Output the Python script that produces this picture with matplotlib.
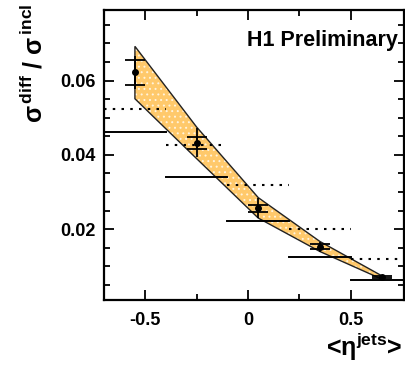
import matplotlib
matplotlib.use('Agg')
import matplotlib.pyplot as plt
from matplotlib.patches import Polygon

plt.rcParams['font.family'] = ['Liberation Sans', 'DejaVu Sans']
plt.rcParams['font.weight'] = 'bold'
plt.rcParams['mathtext.fontset'] = 'custom'
plt.rcParams['mathtext.rm'] = 'Liberation Sans:bold'
plt.rcParams['mathtext.bf'] = 'Liberation Sans:bold'
plt.rcParams['mathtext.it'] = 'Liberation Sans:bold'
plt.rcParams['hatch.linewidth'] = 0.7

# data points (eta bin centres) with stat / total errors
eta = [-0.55, -0.25, 0.05, 0.35, 0.65]
ratio = [0.0622, 0.0433, 0.0256, 0.0153, 0.0071]
stat_err = [0.0034, 0.0016, 0.0009, 0.0006, 0.0003]
tot_err = [0.0045, 0.0040, 0.0027, 0.0013, 0.0005]

# band (upper / lower edge at each point)
band_hi = [0.0692, 0.0475, 0.0285, 0.0167, 0.0075]
band_lo = [0.0551, 0.0390, 0.0230, 0.0140, 0.0066]

# predictions as histograms over bins
bin_edges = [-0.7, -0.4, -0.1, 0.2, 0.5, 0.8]
pred_solid = [0.0462, 0.0340, 0.0223, 0.0124, 0.0063]
pred_dotted = [0.0523, 0.0427, 0.0318, 0.0200, 0.0119]

fig = plt.figure(figsize=(4.05, 3.67), dpi=100)
ax = fig.add_axes([0.257, 0.183, 0.741, 0.790])

# shaded band
verts = list(zip(eta, band_hi)) + list(zip(eta[::-1], band_lo[::-1]))
ax.add_patch(Polygon(verts, closed=True, facecolor='#ffc96b', edgecolor='#fff3dc',
                     hatch='...', linewidth=0, zorder=1))
ax.add_patch(Polygon(verts, closed=True, fill=False, edgecolor='#222222',
                     linewidth=1.0, zorder=2))

for i in range(len(pred_solid)):
    ax.plot([bin_edges[i], bin_edges[i + 1]], [pred_solid[i], pred_solid[i]],
            color='black', lw=1.4, zorder=3)
    ax.plot([bin_edges[i], bin_edges[i + 1]], [pred_dotted[i], pred_dotted[i]],
            color='black', lw=1.5, linestyle=(0, (1.2, 3)), zorder=3)

ax.errorbar(eta, ratio, yerr=tot_err, fmt='none', ecolor='black', elinewidth=1.3, capsize=0, zorder=4)
ax.errorbar(eta, ratio, yerr=stat_err, fmt='o', color='black', ms=4, elinewidth=1.3,
            capsize=7, capthick=1.3, zorder=5)

ax.set_xticks([-0.5, 0, 0.5])
ax.set_xticklabels(['-0.5', '0', '0.5'])
ax.set_xticks([-0.25, 0.25], minor=True)
ax.set_yticks([0.02, 0.04, 0.06])
ax.set_yticklabels(['0.02', '0.04', '0.06'])
ax.set_yticks([0.005, 0.01, 0.015, 0.025, 0.03, 0.035, 0.045, 0.05, 0.055, 0.065, 0.07, 0.075], minor=True)
ax.set_xlim(-0.7, 0.76)
ax.set_ylim(0.001, 0.079)
ax.tick_params(which='both', direction='in', top=True, right=True, width=1.3, labelsize=13)
ax.tick_params(which='major', length=7, pad=6)
ax.tick_params(axis='x', which='major', pad=9)
ax.tick_params(which='minor', length=4)
for s in ax.spines.values():
    s.set_linewidth(1.6)

ax.text(0.98, 0.895, 'H1 Preliminary', transform=ax.transAxes, ha='right', va='center',
        fontsize=15.5, fontweight='bold')

fig.text(0.085, 0.99, r'$\mathrm{σ}^{\,\mathrm{diff}}$ / $\mathrm{σ}^{\,\mathrm{incl}}$',
         rotation=90, ha='center', va='top', fontsize=18, fontweight='bold')
fig.text(0.995, 0.01, r'<$\mathrm{η}^{\mathrm{jets}}$>', ha='right', va='bottom',
         fontsize=18, fontweight='bold')

fig.savefig('out.png', dpi=100)
